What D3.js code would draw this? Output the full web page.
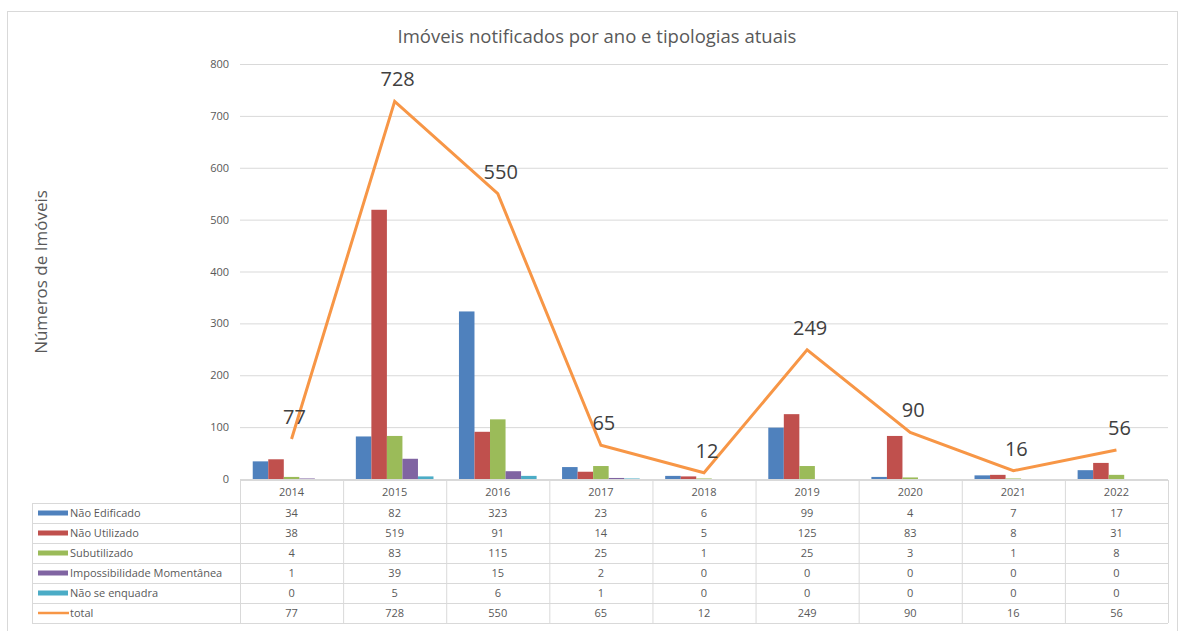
<!DOCTYPE html>
<html><head><meta charset="utf-8">
<script src="https://cdn.jsdelivr.net/npm/d3@7"></script>
<style>body{margin:0;background:#fff;font-family:"Open Sans","Noto Sans",sans-serif;}</style>
</head><body><svg id="c" width="1181" height="631"></svg>
<script>
const years = ["2014","2015","2016","2017","2018","2019","2020","2021","2022"];
const seriesNames = ["Não Edificado","Não Utilizado","Subutilizado","Impossibilidade Momentânea","Não se enquadra"];
const naoEdificado = [34,82,323,23,6,99,4,7,17];
const naoUtilizado = [38,519,91,14,5,125,83,8,31];
const subutilizado = [4,83,115,25,1,25,3,1,8];
const impossibilidade = [1,39,15,2,0,0,0,0,0];
const naoSeEnquadra = [0,5,6,1,0,0,0,0,0];
const total = [77,728,550,65,12,249,90,16,56];
const yTicks = [0,100,200,300,400,500,600,700,800];
const colors = ["#4f81bd","#c0504d","#9bbb59","#8064a2","#4bacc6"];
const totalColor = "#f79646";
const seriesValues = [naoEdificado,naoUtilizado,subutilizado,impossibilidade,naoSeEnquadra];

const svg = d3.select("#c");
const L = 240, R = 1168, T = 64, B = 479;
const textCol = "#595959", gridCol = "#d9d9d9";

svg.append("rect").attr("x",7.5).attr("y",11.5).attr("width",1170).attr("height",625)
  .attr("fill","none").attr("stroke","#d9d9d9");

const x = d3.scaleBand().domain(years).range([L,R]).padding(0);
const y = d3.scaleLinear().domain([0,800]).range([B,T]);
const xs = d3.scaleBand().domain(d3.range(5)).range([0,x.bandwidth()]).paddingOuter(0.82).paddingInner(0);

// grid
svg.append("g").selectAll("line").data(yTicks).join("line")
  .attr("x1",L).attr("x2",R).attr("y1",d=>y(d)+0.5).attr("y2",d=>y(d)+0.5)
  .attr("stroke",gridCol).attr("stroke-width",1);
const yAxis = d3.axisLeft(y).tickValues(yTicks).tickSize(0).tickPadding(11);
const ga = svg.append("g").attr("transform",`translate(${L},0)`).call(yAxis);
ga.select(".domain").remove();
ga.selectAll("text").attr("fill",textCol).style("font-size","11px").style("font-family","'Open Sans',sans-serif");

// bars
seriesValues.forEach((vals,si)=>{
  svg.append("g").selectAll("rect").data(vals).join("rect")
    .attr("x",(d,i)=>x(years[i])+xs(si)).attr("width",xs.bandwidth())
    .attr("y",d=>y(d)).attr("height",d=>B-y(d)).attr("fill",colors[si]);
});

// line
const line = d3.line().x((d,i)=>x(years[i])+x.bandwidth()/2).y(d=>y(d));
svg.append("path").datum(total).attr("d",line).attr("fill","none")
  .attr("stroke",totalColor).attr("stroke-width",3).attr("stroke-linejoin","miter");
svg.append("g").selectAll("text").data(total).join("text")
  .attr("x",(d,i)=>x(years[i])+x.bandwidth()/2+3).attr("y",d=>y(d)-15)
  .attr("text-anchor","middle").attr("fill","#404040")
  .style("font-size","20px").text(d=>d);

// title
svg.append("text").attr("x",597).attr("y",43).attr("text-anchor","middle")
  .attr("fill",textCol).style("font-size","18.5px").text("Imóveis notificados por ano e tipologias atuais");
svg.append("text").attr("transform","translate(47,272) rotate(-90)").attr("text-anchor","middle")
  .attr("fill",textCol).style("font-size","17px").text("Números de Imóveis");

// table
const rowH = 20, hdrTop = 480, hdrBot = 503, legL = 32;
const rows = seriesNames.map((n,i)=>({name:n,vals:seriesValues[i],color:colors[i],line:false}))
  .concat([{name:"total",vals:total,color:totalColor,line:true}]);
const tb = svg.append("g");
const tableBot = hdrBot + rows.length*rowH;
tb.append("line").attr("x1",L).attr("x2",R).attr("y1",hdrTop+0.5).attr("y2",hdrTop+0.5).attr("stroke",gridCol);
d3.range(rows.length+1).forEach(i=>{
  const yy = hdrBot + i*rowH + 0.5;
  tb.append("line").attr("x1",legL).attr("x2",R).attr("y1",yy).attr("y2",yy).attr("stroke",gridCol);
});
years.forEach(yr=>{
  tb.append("line").attr("x1",x(yr)+0.5).attr("x2",x(yr)+0.5).attr("y1",hdrTop).attr("y2",tableBot).attr("stroke",gridCol);
});
tb.append("line").attr("x1",R+0.5).attr("x2",R+0.5).attr("y1",hdrTop).attr("y2",tableBot).attr("stroke",gridCol);
tb.append("line").attr("x1",legL+0.5).attr("x2",legL+0.5).attr("y1",hdrBot).attr("y2",tableBot).attr("stroke",gridCol);
tb.selectAll("text.h").data(years).join("text").attr("class","h")
  .attr("x",d=>x(d)+x.bandwidth()/2).attr("y",(hdrTop+hdrBot)/2+4).attr("text-anchor","middle")
  .attr("fill",textCol).style("font-size","11px").text(d=>d);
rows.forEach((r,ri)=>{
  const cy = hdrBot + ri*rowH + rowH/2;
  if(r.line){
    tb.append("line").attr("x1",38).attr("x2",69).attr("y1",cy).attr("y2",cy).attr("stroke",r.color).attr("stroke-width",2.5);
  } else {
    tb.append("rect").attr("x",38).attr("y",cy-2.5).attr("width",30).attr("height",5).attr("fill",r.color);
  }
  tb.append("text").attr("x",70).attr("y",cy+4).attr("fill",textCol).style("font-size","11px").text(r.name);
  r.vals.forEach((v,i)=>{
    tb.append("text").attr("x",x(years[i])+x.bandwidth()/2).attr("y",cy+4).attr("text-anchor","middle")
      .attr("fill",textCol).style("font-size","11px").text(v);
  });
});
</script></body></html>
